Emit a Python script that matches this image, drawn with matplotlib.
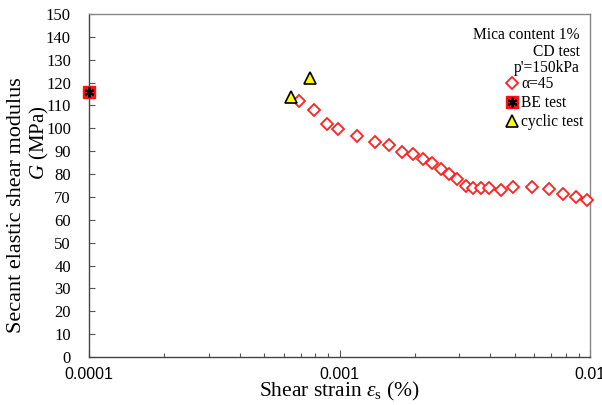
import matplotlib
matplotlib.use("Agg")
import matplotlib.pyplot as plt
from matplotlib.ticker import FixedLocator, NullFormatter
from matplotlib.legend_handler import HandlerTuple

# 数据
strain_a45 = [6.9e-4, 7.9e-4, 8.9e-4, 9.9e-4, 1.17e-3, 1.38e-3, 1.57e-3, 1.77e-3,
              1.96e-3, 2.16e-3, 2.35e-3, 2.54e-3, 2.74e-3, 2.95e-3, 3.19e-3,
              3.42e-3, 3.67e-3, 3.94e-3, 4.43e-3, 4.93e-3, 5.87e-3, 6.88e-3,
              7.78e-3, 8.79e-3, 9.76e-3]
G_a45 = [111.9, 108.0, 101.9, 99.7, 96.8, 93.9, 92.6, 89.6, 88.8, 86.6, 84.8,
         82.1, 80.0, 78.0, 74.8, 73.9, 74.0, 73.8, 72.9, 74.2, 74.2, 73.3,
         71.3, 70.0, 68.6]
strain_be = [1.0e-4]
G_be = [115.9]
strain_cyc = [6.4e-4, 7.63e-4]
G_cyc = [113.8, 121.8]

serif = ["Liberation Serif", "DejaVu Serif"]
sans = ["Liberation Sans", "DejaVu Sans"]
plt.rcParams["mathtext.fontset"] = "custom"
plt.rcParams["mathtext.rm"] = "Liberation Serif"
plt.rcParams["mathtext.it"] = "Liberation Serif:italic"

fig = plt.figure(figsize=(6.02, 4.05), dpi=100)
ax = fig.add_axes([89 / 602, 1 - 357 / 405, 501 / 602, 343 / 405])

h1, = ax.plot(strain_a45, G_a45, linestyle="none", marker="D", markersize=6.3,
              markerfacecolor="white", markeredgecolor="#ff2020",
              markeredgewidth=1.3, clip_on=False, zorder=3)
h2a, = ax.plot(strain_be, G_be, linestyle="none", marker="s", markersize=8,
               markerfacecolor="#ff1010", markeredgecolor="#ff1010",
               clip_on=False, zorder=4)
h2b, = ax.plot(strain_be, G_be, linestyle="none", marker=(6, 2, 0),
               markersize=7, markeredgecolor="black", markeredgewidth=1.5,
               clip_on=False, zorder=5)
h3, = ax.plot(strain_cyc, G_cyc, linestyle="none", marker="^", markersize=8,
              markerfacecolor="#ffff00", markeredgecolor="black",
              markeredgewidth=1.2, clip_on=False, zorder=4)

ax.set_xscale("log")
ax.set_xlim(1e-4, 1e-2)
ax.set_ylim(0, 150)
ax.set_yticks(range(0, 151, 10))
ax.set_xticks([1e-4, 1e-3, 1e-2])
ax.set_xticklabels(["0.0001", "0.001", "0.01"], family=sans, fontsize=11.5)
ax.xaxis.set_minor_locator(FixedLocator(
    [k * 1e-4 for k in range(2, 10)] + [k * 1e-3 for k in range(2, 10)]))
ax.xaxis.set_minor_formatter(NullFormatter())
for lab in ax.get_yticklabels():
    lab.set_family(serif)
    lab.set_fontsize(12)

ax.tick_params(axis="y", direction="in", length=4, width=0.8, pad=13,
               color="#555555")
ax.tick_params(axis="x", which="major", direction="in", length=5, width=0.8,
               pad=7, color="#555555")
ax.tick_params(axis="x", which="minor", direction="in", length=3, width=0.8,
               color="#555555")
for side in ["left", "bottom"]:
    ax.spines[side].set_color("#444444")
for side in ["top", "right"]:
    ax.spines[side].set_color("#888888")
for s in ax.spines.values():
    s.set_linewidth(1.0)

ax.set_xlabel(r"Shear strain $\varepsilon_{\mathrm{s}}$ (%)", family=serif,
              fontsize=15.5, labelpad=-1)
fig.text(0.028, 0.494, "Secant elastic shear modulus", rotation=90,
         ha="center", va="center", family=serif, fontsize=16)
fig.text(0.066, 0.647, r"$G$ (MPa)", rotation=90, ha="center", va="center",
         family=serif, fontsize=15)

ax.text(0.98, 0.962, "Mica content 1%\nCD test\np'=150kPa", transform=ax.transAxes,
        ha="right", va="top", family=serif, fontsize=11.2, linespacing=1.05)

leg = ax.legend([h1, (h2a, h2b), h3], ["α=45", "BE test", "cyclic test"],
                handler_map={tuple: HandlerTuple(ndivide=1)},
                loc="upper left", bbox_to_anchor=(0.835, 0.818),
                frameon=False, prop={"family": serif, "size": 11.2},
                handlelength=0.6, handletextpad=0.3, labelspacing=0.18,
                borderaxespad=0, borderpad=0)

plt.savefig("out.png", dpi=100)
